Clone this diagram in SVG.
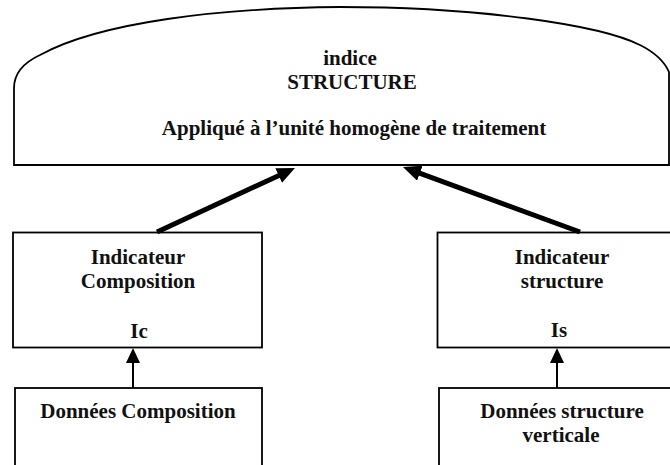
<svg xmlns="http://www.w3.org/2000/svg" width="670" height="465" viewBox="0 0 670 465">
<style>
  .shape{fill:#fff;stroke:#000;stroke-width:1.8}
  .t{font-family:"Liberation Serif","Times New Roman",serif;font-weight:bold;font-size:21px;fill:#111;text-anchor:middle}
  .big{stroke:#000;stroke-width:5;fill:none}
  .small{stroke:#000;stroke-width:2;fill:none}
</style>
<defs>
  <marker id="bigHead" markerUnits="userSpaceOnUse" markerWidth="18" markerHeight="16" refX="4" refY="8" orient="auto">
    <path d="M0,0 L18,8 L0,16 z" fill="#000"/>
  </marker>
  <marker id="smallHead" markerUnits="userSpaceOnUse" markerWidth="15" markerHeight="14" refX="2" refY="7" orient="auto">
    <path d="M0,0 L15,7 L0,14 z" fill="#000"/>
  </marker>
</defs>
<rect width="670" height="465" fill="#fff"/>
<g id="indice">
  <path class="shape" d="M14,165 V88 C14,72 25,62 40,55 C100,22 220,8 340,7 C480,7 600,25 640,45 Q662,56 669,72 V165 Z"/>
  <text class="t" x="350" y="65">indice</text>
  <text class="t" x="352" y="89">STRUCTURE</text>
  <text class="t" x="354" y="135">Appliqué à l’unité homogène de traitement</text>
</g>
<g id="ind-composition">
  <rect class="shape" x="13" y="232.5" width="249" height="115"/>
  <text class="t" x="138" y="264">Indicateur</text>
  <text class="t" x="138" y="288">Composition</text>
  <text class="t" x="139" y="338">Ic</text>
</g>
<g id="ind-structure">
  <rect class="shape" x="437.5" y="232.5" width="249" height="115"/>
  <text class="t" x="562" y="264">Indicateur</text>
  <text class="t" x="562" y="288">structure</text>
  <text class="t" x="559" y="337">Is</text>
</g>
<g id="donnees-composition">
  <rect class="shape" x="15" y="388" width="247" height="90"/>
  <text class="t" x="138" y="418">Données Composition</text>
</g>
<g id="donnees-structure">
  <rect class="shape" x="439" y="388" width="247" height="90"/>
  <text class="t" x="562" y="418">Données structure</text>
  <text class="t" x="561" y="442">verticale</text>
</g>
<g id="connectors">
  <line class="big" x1="157" y1="232" x2="282.3" y2="173.9" marker-end="url(#bigHead)"/>
  <line class="big" x1="580" y1="232" x2="416.1" y2="171.8" marker-end="url(#bigHead)"/>
  <line class="small" x1="133" y1="388" x2="133" y2="361" marker-end="url(#smallHead)"/>
  <line class="small" x1="557" y1="388" x2="557" y2="361" marker-end="url(#smallHead)"/>
</g>
</svg>
